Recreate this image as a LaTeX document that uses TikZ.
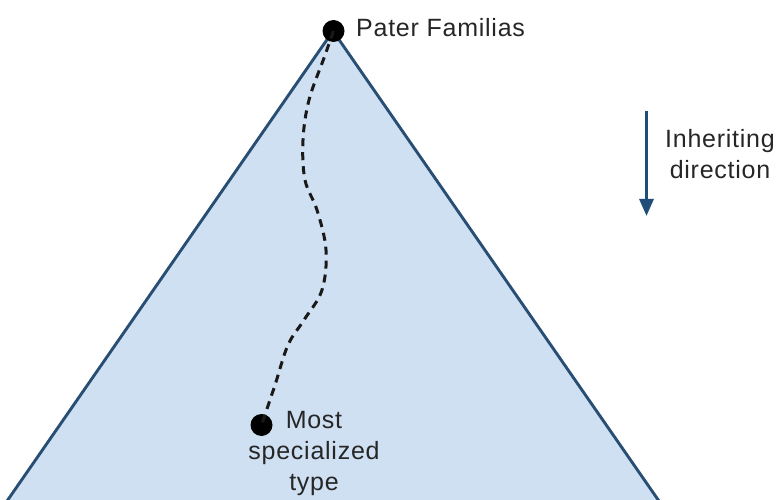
\documentclass[tikz,border=0pt]{standalone}
\usepackage{fontspec}
\setmainfont[LetterSpace=3]{Liberation Sans}
\usetikzlibrary{arrows.meta}
\definecolor{trifill}{HTML}{CFE0F2}
\definecolor{tristroke}{HTML}{284E74}
\definecolor{arrowblue}{HTML}{1F4E79}
\tikzset{
  lbl/.style={inner sep=0pt, font=\fontsize{25}{31}\selectfont, text=black!85},
  dot/.style={circle, fill=black, minimum size=22pt, inner sep=0pt},
  path/.style={dashed, dash pattern=on 8pt off 6pt, line width=3pt, black!90},
}
\begin{document}
\begin{tikzpicture}[x=1pt,y=-1pt]
\useasboundingbox (0,0) rectangle (777,500);
\begin{scope}
\clip (0,0) rectangle (777,500);
\filldraw[fill=trifill, draw=tristroke, line width=2.9pt, line join=round] (333,31) -- (-20,540) -- (686,540) -- cycle;
\end{scope}
\node[dot] (top) at (333.5,31) {};
\node[dot] (bot) at (261.5,425) {};
\draw[path] plot[smooth, tension=0.6] coordinates {(top) (324,58) (309,100) (303,140) (305,180) (317,210) (326,250) (322,290) (304,320) (288,345) (275,385) (bot)};
\node[lbl, anchor=base west] (pf) at (356,37) {Pater Familias};
\node[lbl, anchor=north, align=center] (mst) at (314,411) {Most\\specialized\\type};
\node[lbl, anchor=north, align=center] (inh) at (720,129) {Inheriting\\direction};
\coordinate (a1) at (646.5,111);
\coordinate (a2) at (646.5,216);
\draw[arrowblue, line width=3pt, -{Triangle[length=17pt,width=14pt]}] (a1) -- (a2);
\end{tikzpicture}
\end{document}
